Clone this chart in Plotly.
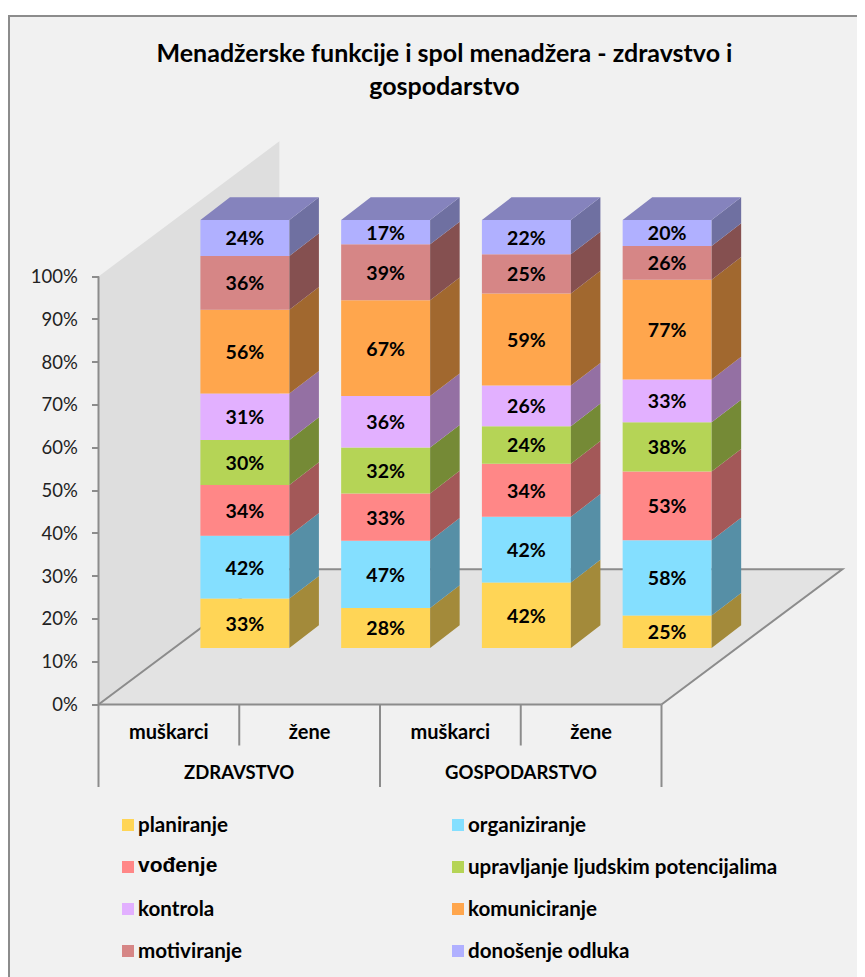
import plotly.graph_objects as go

# ---------- data ----------
sectors = ["ZDRAVSTVO", "GOSPODARSTVO"]
genders = ["muškarci", "žene", "muškarci", "žene"]
series_names = ["planiranje", "organiziranje", "vođenje", "upravljanje ljudskim potencijalima",
                "kontrola", "komuniciranje", "motiviranje", "donošenje odluka"]
planiranje = [33, 28, 42, 25]
organiziranje = [42, 47, 42, 58]
vodjenje = [34, 33, 34, 53]
upravljanje = [30, 32, 24, 38]
kontrola = [31, 36, 26, 33]
komuniciranje = [56, 67, 59, 77]
motiviranje = [36, 39, 25, 26]
donosenje = [24, 17, 22, 20]
series_values = [planiranje, organiziranje, vodjenje, upravljanje,
                 kontrola, komuniciranje, motiviranje, donosenje]
y_ticks = list(range(0, 101, 10))

front_colors = ["#FFD556", "#84DFFF", "#FF8787", "#B5D456", "#E2B0FF", "#FFA64D", "#D68686", "#B0B0FF"]
side_colors = ["#A38A3A", "#568FA6", "#A35858", "#758A36", "#9470A3", "#A1682F", "#855050", "#6F70A1"]
top_color = "#8583BD"

# ---------- geometry of the pseudo-3D box (axis units) ----------
PAGE = 8                          # the page's own margin around the figure
W, H = 865 - PAGE, 977 - PAGE
X0_PX, X_UNIT = 98.5 - PAGE, 140.75   # px of x=0, px per category
Y0_PX, Y_UNIT = 704.5 - PAGE, 4.28    # px of y=0, px per percent
BOX_DX, BOX_DY = 1.285, 31.6      # depth of floor/wall
SHIFT_X, SHIFT_Y = 0.54, 13.2     # bars stand in the middle of the depth
BAR_W = 0.632
BAR_DX, BAR_DY = 0.21, 5.3        # depth of a bar

x_range = [-X0_PX / X_UNIT, (W - X0_PX) / X_UNIT]
y_range = [-(H - Y0_PX) / Y_UNIT, Y0_PX / Y_UNIT]

LINE = "#8C8C8C"
FONT = "Lato"

totals = [sum(s[i] for s in series_values) for i in range(len(genders))]
fig = go.Figure()

cum = [0.0] * len(genders)
xs = [i + 0.5 + SHIFT_X for i in range(len(genders))]
for name, vals, fc, sc in zip(series_names, series_values, front_colors, side_colors):
    share = [v / t * 100 for v, t in zip(vals, totals)]
    base = [c + SHIFT_Y for c in cum]
    fig.add_bar(x=xs, y=share, base=base, width=BAR_W, marker=dict(color=fc, line=dict(width=0)),
                text=[f"{v}%" for v in vals], textposition="inside", insidetextanchor="middle",
                textangle=0, constraintext="none",
                textfont=dict(family=FONT, size=19.5, color="black", weight="bold"),
                name=name, showlegend=False, hoverinfo="skip")
    px, py = [], []
    for x, b, s in zip(xs, base, share):
        r = x + BAR_W / 2
        px += [r, r + BAR_DX, r + BAR_DX, r, r, None]
        py += [b, b + BAR_DY, b + s + BAR_DY, b + s, b, None]
    fig.add_scatter(x=px, y=py, mode="lines", fill="toself", fillcolor=sc, line=dict(width=0),
                    showlegend=False, hoverinfo="skip")
    cum = [c + s for c, s in zip(cum, share)]

# top faces
px, py = [], []
top = 100 + SHIFT_Y
for x in xs:
    l, r = x - BAR_W / 2, x + BAR_W / 2
    px += [l, r, r + BAR_DX, l + BAR_DX, l, None]
    py += [top, top, top + BAR_DY, top + BAR_DY, top, None]
fig.add_scatter(x=px, y=py, mode="lines", fill="toself", fillcolor=top_color, line=dict(width=0),
                showlegend=False, hoverinfo="skip")

n = len(genders)
shapes = [
    # chart area with border (bleeds off the right and bottom of the page)
    dict(type="rect", xref="paper", yref="paper", x0=1 / W, x1=1.02, y0=-0.02, y1=1 - 8 / H,
         fillcolor="#F1F1F1", line=dict(color=LINE, width=2), layer="below"),
    # wall
    dict(type="path", path=f"M 0 0 L 0 100 L {BOX_DX} {100 + BOX_DY} L {BOX_DX} {BOX_DY} Z",
         fillcolor="#DEDEDE", line=dict(width=0), layer="below"),
    # floor
    dict(type="path", path=f"M 0 0 L {n} 0 L {n + BOX_DX} {BOX_DY} L {BOX_DX} {BOX_DY} Z",
         fillcolor="#E3E3E3", line=dict(width=0), layer="below"),
    # floor outline
    dict(type="path", path=f"M 0 0 L {BOX_DX} {BOX_DY} L {n + BOX_DX} {BOX_DY} L {n} 0",
         line=dict(color=LINE, width=2), layer="below"),
    # y axis and x axis lines
    dict(type="line", x0=0, x1=0, y0=0, y1=100, line=dict(color=LINE, width=2), layer="below"),
    dict(type="line", x0=0, x1=n, y0=0, y1=0, line=dict(color=LINE, width=2), layer="below"),
]
for i in range(n + 1):
    drop_px = 82.5 if i % 2 == 0 else 41
    shapes.append(dict(type="line", x0=i, x1=i, y0=0, y1=-drop_px / Y_UNIT, line=dict(color=LINE, width=2)))

annotations = []
for j, s in enumerate(sectors):
    annotations.append(dict(x=2 * j + 1, y=-67.5 / Y_UNIT, text=f"<b>{s}</b>", showarrow=False,
                            font=dict(family=FONT, size=18.5, color="black"), xanchor="center", yanchor="middle"))

# legend (positions in page pixels)
rows = [824, 866, 908, 950]
cols = [(122, 139), (452, 469)]
for k, (name, color) in enumerate(zip(series_names, front_colors)):
    sx, tx = cols[k % 2]
    cy = rows[k // 2]
    box_cy = cy + 1
    shapes.append(dict(type="rect", xref="paper", yref="paper", x0=(sx - PAGE) / W, x1=(sx + 12 - PAGE) / W,
                       y0=1 - (box_cy + 6 - PAGE) / H, y1=1 - (box_cy - 6 - PAGE) / H,
                       fillcolor=color, line=dict(width=0)))
    big = name == "vođenje"
    annotations.append(dict(xref="paper", yref="paper", x=(tx - PAGE) / W, y=1 - (cy - PAGE - (2 if big else 0)) / H,
                            text=f"<b>{name}</b>", showarrow=False, xanchor="left", yanchor="middle",
                            xshift=-3, font=dict(family="Liberation Sans" if big else FONT, size=21 if big else 20.6,
                                      color="black")))

fig.update_layout(
    width=W, height=H, autosize=False,
    margin=dict(l=0, r=0, t=0, b=0),
    paper_bgcolor="white", plot_bgcolor="rgba(0,0,0,0)",
    barmode="overlay", showlegend=False,
    font=dict(family=FONT, color="black"),
    title=dict(text="<b>Menadžerske funkcije i spol menadžera - zdravstvo i<br>gospodarstvo</b>",
               x=(444.5 - PAGE) / W, xanchor="center", y=1 - 54 / H, yanchor="top", pad=dict(t=0),
               font=dict(family=FONT, size=25, color="black")),
    xaxis=dict(range=x_range, tickmode="array", tickvals=[i + 0.5 for i in range(n)], ticktext=genders,
               showgrid=False, zeroline=False, showline=False, ticks="", anchor="free", position=1 - Y0_PX / H,
               ticklabelstandoff=13, tickfont=dict(family=FONT, size=20, weight="bold", color="black"),
               domain=[0, 1]),
    yaxis=dict(range=y_range, tickmode="array", tickvals=y_ticks, ticktext=[f"{v}%" for v in y_ticks],
               showgrid=False, zeroline=False, showline=False, ticks="outside", ticklen=7, tickwidth=2,
               tickcolor=LINE, anchor="free", position=X0_PX / W, ticklabelstandoff=10,
               tickfont=dict(family=FONT, size=18.5, color="#222222"), domain=[0, 1]),
    shapes=shapes, annotations=annotations,
)
fig.write_html("out.html")
